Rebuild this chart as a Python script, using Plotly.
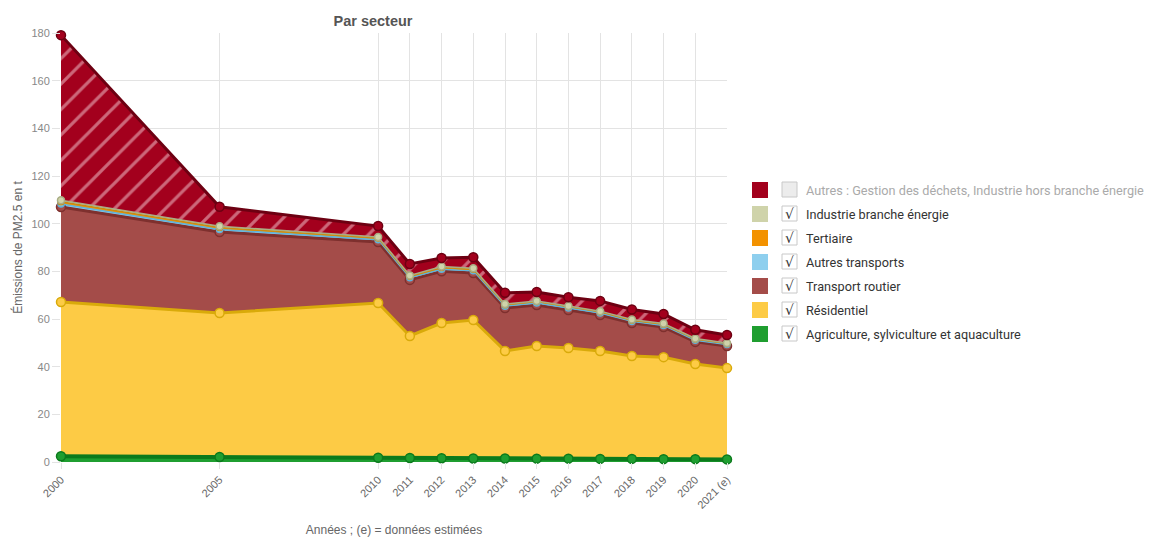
import plotly.graph_objects as go

# ---------------- data ----------------
years = [2000, 2005, 2010, 2011, 2012, 2013, 2014, 2015, 2016, 2017, 2018, 2019, 2020, 2021]
year_labels = ["2000", "2005", "2010", "2011", "2012", "2013", "2014", "2015",
               "2016", "2017", "2018", "2019", "2020", "2021 (e)"]

agriculture = [2.4, 2.1, 1.8, 1.7, 1.6, 1.5, 1.5, 1.4, 1.4, 1.3, 1.3, 1.2, 1.2, 1.1]
residentiel = [64.7, 60.4, 64.9, 51.2, 56.7, 58.1, 45.1, 47.3, 46.4, 45.3, 43.2, 42.8, 39.9, 38.3]
transport_routier = [39.9, 34.0, 25.6, 23.5, 21.7, 19.7, 18.0, 17.2, 16.0, 15.1, 13.8, 12.6, 9.3, 9.3]
autres_transports = [1.3, 1.1, 1.0, 0.9, 0.9, 0.9, 0.8, 0.8, 0.8, 0.8, 0.7, 0.7, 0.7, 0.6]
tertiaire = [0.9, 0.8, 0.7, 0.6, 0.7, 0.7, 0.6, 0.6, 0.6, 0.5, 0.5, 0.5, 0.5, 0.4]
industrie_energie = [0.6, 0.5, 0.4, 0.4, 0.4, 0.4, 0.3, 0.3, 0.3, 0.3, 0.3, 0.3, 0.2, 0.2]
autres = [69.3, 8.2, 4.6, 4.8, 3.6, 4.6, 4.7, 3.7, 3.6, 4.3, 4.2, 4.0, 3.7, 3.4]

names = ["Agriculture, sylviculture et aquaculture", "Résidentiel", "Transport routier",
         "Autres transports", "Tertiaire", "Industrie branche énergie",
         "Autres : Gestion des déchets, Industrie hors branche énergie"]
values = [agriculture, residentiel, transport_routier, autres_transports,
          tertiaire, industrie_energie, autres]
fill_colors = ["#1f9e30", "#fdcb45", "#a44c49", "#8ecfee", "#f39200", "#cfd3aa", "#a3001d"]
line_colors = ["#0b7a1c", "#d9aa0a", "#7e302e", "#5fb3dc", "#c98a10", "#a9ad84", "#6d0012"]
line_widths = [4, 3, 3, 1.5, 1.5, 1.5, 3]
marker_sizes = [9, 9, 9, 6, 6, 7, 9]
checked = [True, True, True, True, True, True, False]

y_title = "Émissions de PM2.5 en t"
x_title = "Années ; (e) = données estimées"
chart_title = "Par secteur"

# ---------------- figure ----------------
# the page body has an 8px margin, so figure pixel = page pixel - 8
W, H = 1155, 538
OFF = 8
L, R, T, B = 61 - OFF, 727 - OFF, 33 - OFF, 462 - OFF  # plot area in figure pixels

fig = go.Figure()
for i, (nm, vals) in enumerate(zip(names, values)):
    kw = {}
    if i == len(names) - 1:
        kw["fillpattern"] = dict(shape="/", fgcolor="rgba(255,230,235,0.9)",
                                 bgcolor=fill_colors[i], size=18, solidity=0.18)
    fig.add_trace(go.Scatter(
        x=years, y=vals, name=nm, stackgroup="one",
        mode="lines+markers",
        fillcolor=fill_colors[i],
        line=dict(color=line_colors[i], width=line_widths[i]),
        marker=dict(size=marker_sizes[i], color=fill_colors[i],
                    line=dict(color=line_colors[i], width=1.5)),
        cliponaxis=False, showlegend=False, **kw))

fig.update_layout(
    width=W, height=H,
    margin=dict(l=L, r=W - R, t=T, b=H - B, pad=0, autoexpand=False),
    paper_bgcolor="white", plot_bgcolor="white",
    font=dict(family="Liberation Sans, Arial, sans-serif", color="#666"),
    title=dict(text="<b>" + chart_title + "</b>", x=(373 - OFF) / W, xanchor="center",
               xref="container", yref="container",
               y=1 - (21 - OFF) / H, yanchor="middle",
               font=dict(size=14.5, color="#555")),
    showlegend=False,
)

fig.update_xaxes(
    range=[2000, 2021], tickvals=years, ticktext=year_labels, tickangle=-45,
    showgrid=True, gridcolor="#e3e3e3", gridwidth=1,
    ticks="outside", ticklen=6, tickcolor="#e3e3e3",
    tickfont=dict(size=11, color="#666"), zeroline=False, showline=False,
    automargin=False,
    title=dict(text=x_title, font=dict(size=12, color="#666"), standoff=15),
)
fig.update_yaxes(
    range=[0, 180], tickvals=list(range(0, 181, 20)),
    showgrid=True, gridcolor="#e3e3e3", gridwidth=1,
    ticks="outside", ticklen=8, tickcolor="#e3e3e3",
    tickfont=dict(size=11, color="#888"), zeroline=False, showline=False,
    automargin=False,
    title=dict(text=y_title, font=dict(size=12, color="#666"), standoff=6),
)

# ---------------- custom legend (checkbox style) ----------------
def px_x(p):
    return (p - OFF - L) / (R - L)

def px_y(p):
    return (B - (p - OFF)) / (B - T)

row0, step = 190, 24
for k, idx in enumerate(reversed(range(len(names)))):
    cy = row0 + k * step
    # colour swatch
    fig.add_shape(type="rect", xref="paper", yref="paper",
                  x0=px_x(752), x1=px_x(768), y0=px_y(cy - 8), y1=px_y(cy + 8),
                  fillcolor=fill_colors[idx], line=dict(width=0), layer="above")
    # checkbox
    fig.add_shape(type="rect", xref="paper", yref="paper",
                  x0=px_x(782), x1=px_x(797), y0=px_y(cy - 8), y1=px_y(cy + 7),
                  fillcolor="#ffffff" if checked[idx] else "#ececec",
                  line=dict(width=1, color="#c8c8c8"), layer="above")
    if checked[idx]:
        fig.add_annotation(xref="paper", yref="paper", x=px_x(789.5), y=px_y(cy),
                           text="√", showarrow=False, xanchor="center", yanchor="middle",
                           font=dict(family="DejaVu Sans", size=14, color="#333"))
    fig.add_annotation(xref="paper", yref="paper", x=px_x(804), y=px_y(cy),
                       text=names[idx], showarrow=False, xanchor="left", yanchor="middle",
                       font=dict(family="Roboto", size=12.7,
                                 color="#333" if checked[idx] else "#aaa"))

fig.write_html("out.html")
